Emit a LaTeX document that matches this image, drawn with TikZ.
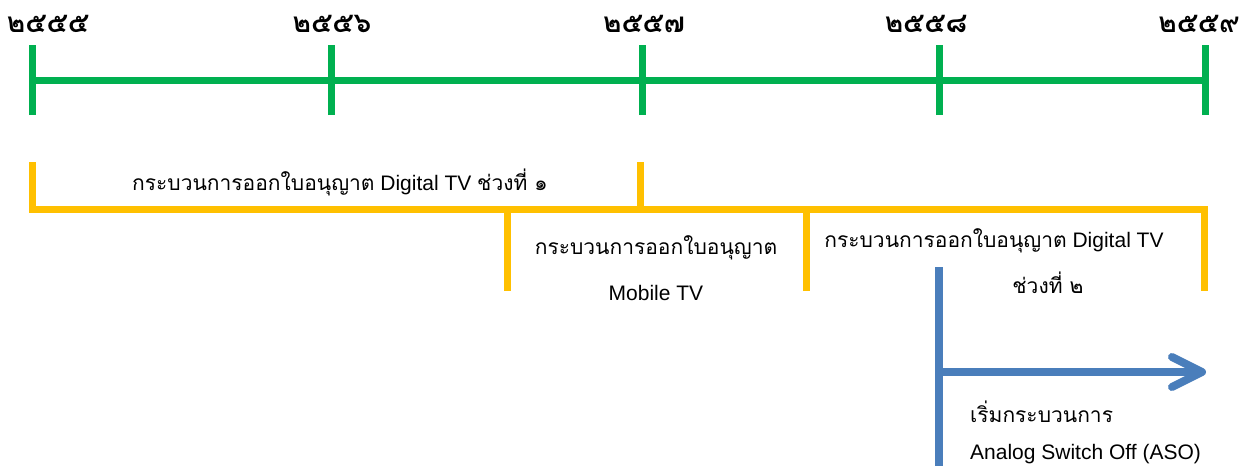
\documentclass[tikz,border=0pt]{standalone}
\usepackage{fontspec}
\setmainfont{Liberation Sans}
\newfontfamily\thai[Script=Thai]{Loma}
\definecolor{tlgreen}{HTML}{00B050}
\definecolor{tlyellow}{HTML}{FFC000}
\definecolor{tlblue}{HTML}{4A7EBB}
\tikzset{
  axisline/.style={draw=tlgreen, line width=7pt},
  bracketline/.style={draw=tlyellow, line width=7pt},
  asoline/.style={draw=tlblue, line width=8pt},
  yearlabel/.style={font=\thai\bfseries\fontsize{28}{32}\selectfont, anchor=base, inner sep=0pt},
  plabel/.style={font=\fontsize{21}{25}\selectfont, inner sep=0pt},
}
\begin{document}
\begin{tikzpicture}[x=1pt,y=-1pt]
\useasboundingbox (0,0) rectangle (1251,466);
% timeline
\coordinate (t1) at (32,80);
\coordinate (t2) at (331,80);
\coordinate (t3) at (642,80);
\coordinate (t4) at (939,80);
\coordinate (t5) at (1205,80);
\draw[axisline] (t1) -- (t5);
\foreach \t in {t1,t2,t3,t4,t5}{
  \draw[axisline] ([yshift=-35pt]\t) -- ([yshift=35pt]\t);
}
\node[yearlabel] (y1) at (48,32) {๒๕๕๕};
\node[yearlabel] (y2) at (332,32) {๒๕๕๖};
\node[yearlabel] (y3) at (644,32) {๒๕๕๗};
\node[yearlabel] (y4) at (926,32) {๒๕๕๘};
\node[yearlabel] (y5) at (1199,32) {๒๕๕๙};
% bracket 1
\coordinate (b1a) at (32,162);
\coordinate (b1b) at (32,209);
\coordinate (b1c) at (640,209);
\coordinate (b1d) at (640,162);
\draw[bracketline] (b1a) -- (b1b) -- (b1c) -- (b1d);
\node[plabel] (l1) at (340,182) {{\thai กระบวนการออกใบอนุญาต} Digital TV {\thai ช่วงที่ ๑}};
% bracket 2
\coordinate (b2a) at (507,291);
\coordinate (b2b) at (507,209);
\coordinate (b2c) at (806,209);
\coordinate (b2d) at (806,291);
\draw[bracketline] (b2a) -- (b2b) -- (b2c) -- (b2d);
\node[plabel] (l2a) at (656,248) {\thai กระบวนการออกใบอนุญาต};
\node[plabel] (l2b) at (656,293) {Mobile TV};
% bracket 3
\coordinate (b3a) at (806,291);
\coordinate (b3b) at (806,209);
\coordinate (b3c) at (1204,209);
\coordinate (b3d) at (1204,291);
\draw[bracketline] (b3a) -- (b3b) -- (b3c) -- (b3d);
\node[plabel] (l3a) at (994,241) {{\thai กระบวนการออกใบอนุญาต} Digital TV};
\node[plabel] (l3b) at (1048,283) {\thai ช่วงที่ ๒};
% ASO
\coordinate (a1) at (939,267);
\coordinate (a2) at (939,466);
\coordinate (a3) at (939,372);
\coordinate (a4) at (1202,372);
\coordinate (h1) at (1172,357);
\coordinate (h2) at (1172,387);
\draw[asoline] (a1) -- (a2);
\draw[asoline] (a3) -- (a4);
\draw[asoline, line cap=round, line join=round] (h1) -- (a4) -- (h2);
\node[plabel, anchor=west] (l4a) at (970,412) {\thai เริ่มกระบวนการ};
\node[plabel, anchor=west] (l4b) at (970,454) {Analog Switch Off (ASO)};
\end{tikzpicture}
\end{document}
